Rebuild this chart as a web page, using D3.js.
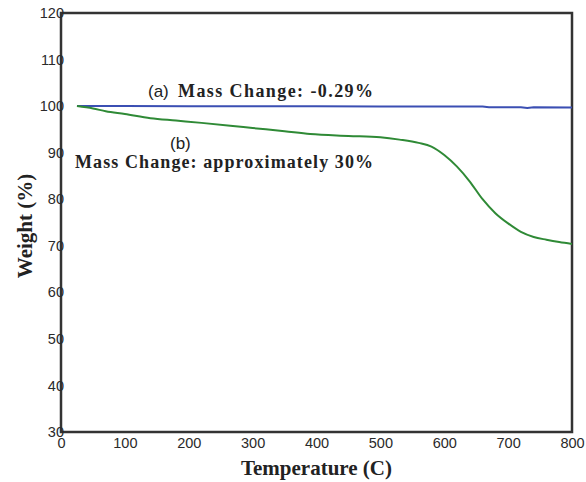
<!DOCTYPE html>
<html>
<head>
<meta charset="utf-8">
<script src="https://cdn.jsdelivr.net/npm/d3@7"></script>
<style>
  body { margin: 0; background: #fff; }
  svg { display: block; }
</style>
</head>
<body>
<div id="chart"></div>
<script>
const xTicks = [0, 100, 200, 300, 400, 500, 600, 700, 800];
const yTicks = [30, 40, 50, 60, 70, 80, 90, 100, 110, 120];

// (a) blue curve
const tempA = [25, 100, 200, 300, 400, 500, 600, 660, 670, 720, 730, 740, 800];
const weightA = [100, 100, 99.95, 99.95, 99.95, 99.9, 99.9, 99.9, 99.75, 99.75, 99.6, 99.75, 99.7];

// (b) green curve
const tempB = [25, 50, 70, 100, 140, 180, 220, 265, 300, 350, 390, 450, 500, 530, 560, 580, 600, 620, 640, 660, 680, 700, 720, 740, 760, 780, 800];
const weightB = [100, 99.5, 98.9, 98.3, 97.4, 96.9, 96.4, 95.8, 95.3, 94.6, 94.0, 93.6, 93.3, 92.8, 92.1, 91.3, 89.5, 87.0, 83.8, 80.0, 77.0, 74.8, 73.0, 71.9, 71.3, 70.8, 70.4];

const width = 586, height = 482;
const margin = {top: 13, right: 14, bottom: 50, left: 61};

const svg = d3.select("#chart").append("svg")
    .attr("width", width)
    .attr("height", height);

const x = d3.scaleLinear().domain([0, 800]).range([margin.left, width - margin.right]);
const y = d3.scaleLinear().domain([30, 120]).range([height - margin.bottom, margin.top]);

// frame
svg.append("rect")
    .attr("x", x(0))
    .attr("y", y(120))
    .attr("width", x(800) - x(0))
    .attr("height", y(30) - y(120))
    .attr("fill", "none")
    .attr("stroke", "#333")
    .attr("stroke-width", 2.5);

// axes, labels only
const xAxis = svg.append("g")
    .attr("transform", `translate(0,${y(30)})`)
    .call(d3.axisBottom(x).tickValues(xTicks).tickSize(0).tickPadding(6));
const yAxis = svg.append("g")
    .attr("transform", `translate(${x(0) + 3},0)`)
    .call(d3.axisLeft(y).tickValues(yTicks).tickSize(0).tickPadding(0));

[xAxis, yAxis].forEach(g => {
    g.select(".domain").remove();
    g.selectAll("text")
        .attr("font-family", "Liberation Sans, Arial, sans-serif")
        .attr("font-size", 14.5)
        .attr("fill", "#2a2a2a");
});

const line = d3.line().x(d => x(d[0])).y(d => y(d[1]));

svg.append("path")
    .datum(tempA.map((t, i) => [t, weightA[i]]))
    .attr("d", line)
    .attr("fill", "none")
    .attr("stroke", "#3b4fb3")
    .attr("stroke-width", 2);

svg.append("path")
    .datum(tempB.map((t, i) => [t, weightB[i]]))
    .attr("d", d3.line().curve(d3.curveMonotoneX).x(d => x(d[0])).y(d => y(d[1])))
    .attr("fill", "none")
    .attr("stroke", "#2f8a36")
    .attr("stroke-width", 2);

// annotations
const serif = "Liberation Serif, Times New Roman, serif";
const sans = "Liberation Sans, Arial, sans-serif";

svg.append("text")
    .attr("x", 148).attr("y", 97)
    .attr("font-family", sans).attr("font-size", 17).attr("fill", "#222")
    .text("(a)");
svg.append("text")
    .attr("x", 178).attr("y", 97)
    .attr("font-family", serif).attr("font-size", 18).attr("font-weight", "bold").attr("fill", "#222")
    .attr("textLength", 195).attr("lengthAdjust", "spacing")
    .text("Mass Change: -0.29%");
svg.append("text")
    .attr("x", 170).attr("y", 149)
    .attr("font-family", sans).attr("font-size", 17).attr("fill", "#222")
    .text("(b)");
svg.append("text")
    .attr("x", 75).attr("y", 168)
    .attr("font-family", serif).attr("font-size", 18).attr("font-weight", "bold").attr("fill", "#222")
    .attr("textLength", 298).attr("lengthAdjust", "spacing")
    .text("Mass Change: approximately 30%");

// axis titles
svg.append("text")
    .attr("x", (x(0) + x(800)) / 2).attr("y", 475)
    .attr("text-anchor", "middle")
    .attr("font-family", serif).attr("font-size", 21).attr("font-weight", "bold").attr("fill", "#222")
    .text("Temperature (C)");
svg.append("text")
    .attr("transform", "translate(32,226) rotate(-90)")
    .attr("text-anchor", "middle")
    .attr("font-family", serif).attr("font-size", 21).attr("font-weight", "bold").attr("fill", "#222")
    .text("Weight (%)");
</script>
</body>
</html>
